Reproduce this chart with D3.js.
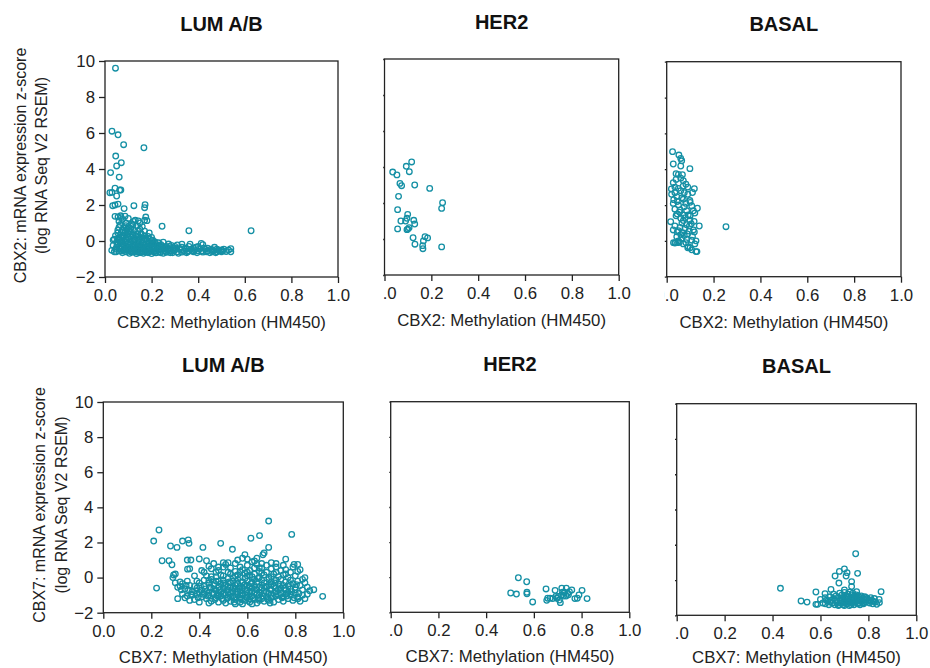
<!DOCTYPE html>
<html>
<head>
<meta charset="utf-8">
<script src="https://cdn.jsdelivr.net/npm/d3@7"></script>
<style>
  html, body { margin: 0; padding: 0; background: #fff; }
  svg { display: block; font-family: "Liberation Sans", Arial, sans-serif; }
</style>
</head>
<body>
<svg id="chart" width="930" height="668"></svg>
<script>
// Subtype column titles and axis tick values
const subtypes = ["LUM A/B", "HER2", "BASAL"];
const genes = ["CBX2", "CBX7"];
const xTickValues = [0, 0.2, 0.4, 0.6, 0.8, 1.0];
const yTickValues = [-2, 0, 2, 4, 6, 8, 10];

// [methylation beta, mRNA z-score] per sample
const cbx2LumAB = [
  [0.045,9.6],[0.03,6.1],[0.056,5.9],[0.08,5.35],[0.167,5.18],[0.046,4.72],[0.07,4.35],[0.05,4.17],
  [0.024,3.8],[0.061,3.55],[0.043,2.93],[0.063,2.83],[0.021,2.68],[0.03,2.7],[0.05,2.5],[0.068,2.83],
  [0.033,1.96],[0.043,2.0],[0.056,2.05],[0.082,1.8],[0.124,1.96],[0.172,2.02],[0.17,1.85],[0.043,1.37],
  [0.056,1.33],[0.067,1.4],[0.086,1.38],[0.175,1.33],[0.123,1.09],[0.143,1.12],[0.17,1.15],[0.18,1.13],
  [0.245,0.82],[0.36,0.57],[0.627,0.57],[0.029,-0.52],
  [0.06,1.1],[0.075,1.2],[0.09,1.0],[0.1,1.25],[0.115,0.95],[0.135,0.85],[0.15,1.0],[0.16,0.8],
  [0.065,0.9],[0.08,0.75],[0.095,0.65],[0.11,0.7],[0.125,0.6],[0.14,0.55],[0.055,0.6],[0.07,0.5],
  [0.085,0.45],[0.1,0.4],[0.12,0.35],[0.135,0.3],[0.155,0.4],[0.17,0.3],[0.185,0.25],[0.2,0.2],
  [0.045,0.3],[0.06,0.2],[0.075,0.25],[0.09,0.15],[0.105,0.1],[0.13,0.05],[0.145,0.1],[0.165,0.05],
  [0.18,0.0],[0.2,0.02],[0.215,-0.05],[0.23,-0.1],[0.04,0.1],[0.05,-0.05],[0.065,-0.1],[0.08,0.0],
  [0.095,-0.15],[0.11,-0.1],[0.125,-0.2],[0.14,-0.15],[0.155,-0.25],[0.17,-0.2],[0.19,-0.3],[0.21,-0.25],
  [0.225,-0.35],[0.035,-0.25],[0.05,-0.35],[0.07,-0.3],[0.085,-0.4],[0.1,-0.35],[0.115,-0.45],[0.13,-0.4],
  [0.145,-0.5],[0.16,-0.45],[0.175,-0.55],[0.195,-0.5],[0.21,-0.6],[0.24,-0.45],[0.255,-0.55],[0.27,-0.4],
  [0.04,-0.6],[0.06,-0.55],[0.075,-0.65],[0.09,-0.6],[0.105,-0.68],[0.12,-0.62],[0.135,-0.7],[0.15,-0.65],
  [0.165,-0.68],[0.18,-0.62],[0.2,-0.7],[0.22,-0.66],[0.235,-0.6],[0.25,-0.68],[0.265,-0.63],[0.28,-0.55],
  [0.29,-0.65],[0.3,-0.5],[0.31,-0.6],[0.32,-0.42],[0.33,-0.18],[0.34,-0.55],[0.35,-0.65],[0.365,-0.18],
  [0.37,-0.45],[0.38,-0.6],[0.39,-0.35],[0.4,-0.55],[0.413,-0.13],[0.42,-0.62],[0.43,-0.45],[0.44,-0.55],
  [0.45,-0.65],[0.46,-0.5],[0.47,-0.35],[0.48,-0.6],[0.49,-0.55],[0.5,-0.6],[0.51,-0.45],[0.52,-0.58],
  [0.53,-0.5],[0.54,-0.43],[0.54,-0.6],[0.273,-0.17],[0.25,-0.07],[0.31,-0.22],[0.3,-0.3],[0.285,-0.25],
  [0.26,-0.3],[0.24,-0.2],[0.2,-0.12],[0.185,-0.4],[0.165,-0.35],[0.15,-0.3],[0.12,-0.55],[0.1,-0.5],
  [0.08,-0.5],[0.06,-0.42],[0.045,-0.45],[0.035,0.05],[0.055,0.45],[0.06,0.75],[0.07,1.3],[0.08,0.3],
  [0.095,0.35],[0.11,0.25],[0.125,0.15],[0.14,0.2],[0.16,0.15],[0.175,0.1],[0.19,0.12],[0.205,-0.15],
  [0.22,-0.2],[0.235,-0.3],[0.25,-0.4],[0.27,-0.5],[0.3,-0.4],[0.33,-0.35],[0.35,-0.45],[0.36,-0.3],
  [0.38,-0.4],[0.4,-0.3],[0.42,-0.2],[0.44,-0.4],[0.46,-0.6],[0.48,-0.45],[0.5,-0.5],[0.33,-0.62],
  [0.36,-0.55],[0.28,-0.65],[0.23,-0.5],[0.17,-0.6],[0.14,-0.62],[0.11,-0.6],[0.09,-0.3],[0.085,0.55],
  [0.1,0.8],[0.12,0.9],[0.13,1.15],[0.15,0.65],[0.17,0.55],[0.19,0.45],[0.11,0.5],[0.065,0.05],
  [0.052,-0.2],[0.058,0.1],[0.068,-0.45],[0.072,0.15],[0.078,-0.2],[0.088,-0.05],[0.092,-0.5],[0.098,0.2],
  [0.103,-0.25],[0.108,-0.55],[0.113,0.05],[0.118,-0.3],[0.122,-0.05],[0.128,-0.5],[0.132,0.25],[0.138,-0.3],
  [0.142,-0.05],[0.148,-0.4],[0.152,0.2],[0.158,-0.6],[0.162,-0.1],[0.168,-0.45],[0.172,0.15],[0.178,-0.3],
  [0.182,-0.5],[0.188,-0.15],[0.192,-0.6],[0.198,-0.35],[0.205,0.05],[0.212,-0.45],[0.218,-0.55],[0.228,-0.25],
  [0.238,-0.65],[0.245,-0.3],[0.258,-0.45],[0.262,-0.6],[0.275,-0.3],[0.282,-0.45],[0.295,-0.55],[0.305,-0.45],
  [0.315,-0.68],[0.325,-0.5],[0.345,-0.4],[0.355,-0.6],[0.375,-0.55],[0.385,-0.5],[0.395,-0.65],[0.405,-0.45],
  [0.415,-0.55],[0.425,-0.4],[0.435,-0.6],[0.455,-0.45],[0.465,-0.55],[0.475,-0.65],[0.485,-0.5],[0.505,-0.55],
  [0.048,-0.6],[0.055,0.05],[0.062,-0.3],[0.072,-0.55],[0.082,-0.25],[0.088,0.1],[0.095,-0.45],[0.105,-0.4],
  [0.115,-0.6],[0.125,-0.35],[0.135,-0.55],[0.145,-0.25],[0.155,-0.55],[0.165,-0.2],[0.175,-0.4],[0.185,-0.65],
  [0.195,-0.15],[0.205,-0.4],[0.215,-0.65],[0.225,-0.5],[0.075,0.6],[0.09,0.85],[0.105,0.55],[0.14,0.4]
];

const cbx2Her2 = [
  [0.035,3.72],[0.053,3.56],[0.093,4.04],[0.116,4.28],[0.106,3.74],[0.066,3.09],[0.073,2.96],[0.129,3.0],
  [0.193,2.81],[0.06,2.37],[0.248,2.02],[0.244,1.7],[0.056,1.63],[0.099,1.37],[0.096,1.15],[0.07,1.0],
  [0.09,1.0],[0.125,1.04],[0.129,0.83],[0.056,0.56],[0.096,0.52],[0.105,0.63],[0.1,0.55],[0.122,0.07],
  [0.173,0.13],[0.184,0.06],[0.166,-0.11],[0.13,-0.29],[0.163,-0.37],[0.164,-0.54],[0.244,-0.44]
];

const cbx2Basal = [
  [0.025,4.98],[0.052,4.79],[0.06,4.6],[0.064,4.47],[0.028,4.29],[0.06,4.18],[0.099,4.03],[0.05,3.71],
  [0.067,3.69],[0.04,3.43],[0.071,3.36],[0.028,3.25],[0.082,3.16],[0.118,2.91],[0.05,2.93],[0.06,2.8],
  [0.035,2.69],[0.075,2.69],[0.021,2.6],[0.043,2.47],[0.071,2.32],[0.099,2.25],[0.028,2.09],[0.05,2.0],
  [0.082,2.09],[0.107,1.95],[0.131,1.82],[0.035,1.77],[0.057,1.73],[0.085,1.68],[0.114,1.68],[0.045,1.5],
  [0.071,1.44],[0.092,1.44],[0.06,1.26],[0.099,1.16],[0.017,1.07],[0.071,1.13],[0.117,1.09],[0.139,0.83],
  [0.035,0.83],[0.057,0.75],[0.078,0.7],[0.097,0.83],[0.05,0.57],[0.028,0.61],[0.068,0.46],[0.088,0.39],
  [0.114,0.61],[0.118,0.5],[0.043,0.23],[0.064,0.14],[0.085,0.08],[0.107,0.04],[0.125,0.0],[0.035,-0.12],
  [0.054,-0.08],[0.071,-0.17],[0.092,-0.32],[0.107,-0.5],[0.125,-0.6],[0.253,0.79],
  [0.03,2.3],[0.045,2.2],[0.065,2.4],[0.09,2.6],[0.1,2.15],[0.075,1.9],[0.055,1.6],[0.04,1.4],
  [0.08,1.3],[0.1,1.4],[0.12,1.55],[0.065,1.0],[0.085,0.9],[0.105,0.95],[0.045,0.5],[0.075,0.3],
  [0.095,0.55],[0.11,0.25],[0.06,0.35],[0.038,-0.1],[0.05,0.0],[0.082,-0.1],[0.1,-0.38],[0.12,-0.17],
  [0.129,-0.6],[0.029,-0.1],[0.046,-0.1],[0.09,-0.38],[0.07,3.05],[0.04,3.75],[0.02,2.9],[0.035,3.0],
  [0.06,3.5],[0.09,3.0],[0.11,2.7]
];

const cbx7LumAB = [
  [0.21,2.08],[0.232,2.71],[0.245,0.96],[0.274,0.96],[0.286,0.73],[0.222,-0.6],[0.28,1.8],[0.307,1.72],
  [0.33,2.08],[0.354,2.15],[0.357,1.95],[0.415,1.72],[0.489,1.95],[0.538,1.61],[0.615,2.24],[0.651,2.39],
  [0.689,3.22],[0.785,2.46],[0.689,1.72],[0.914,-1.07],[0.877,-0.69],[0.811,-1.2],[0.293,0.15],[0.351,0.48],
  [0.4,1.06],[0.43,0.96],[0.35,1.0],[0.365,1.0],[0.52,0.85],[0.56,1.0],[0.59,1.31],[0.58,1.1],
  [0.6,1.05],[0.62,0.9],[0.64,1.1],[0.665,1.3],[0.67,1.4],[0.7,0.85],[0.72,0.8],[0.76,1.05],
  [0.795,0.75],[0.81,0.75],[0.82,0.45],[0.66,0.8],[0.63,0.95],[0.5,0.85],[0.48,0.6],[0.46,0.8],[0.45,0.5],
  [0.3,0.2],[0.32,-0.25],[0.36,0.5],[0.38,0.1],[0.39,-0.2],[0.41,0.4],[0.42,0.3],[0.43,0.1],
  [0.44,0.65],[0.45,0.05],[0.47,0.3],[0.48,0.4],[0.49,0.15],[0.5,0.6],[0.5,0.1],[0.51,0.75],
  [0.52,0.3],[0.53,0.55],[0.54,0.0],[0.55,0.8],[0.55,0.35],[0.56,0.15],[0.57,0.6],[0.57,0.0],
  [0.58,0.45],[0.59,0.25],[0.6,0.7],[0.6,0.1],[0.61,0.4],[0.62,0.05],[0.63,0.55],[0.63,0.2],
  [0.64,0.75],[0.65,0.35],[0.65,0.0],[0.66,0.55],[0.67,0.15],[0.68,0.7],[0.68,0.3],[0.69,0.0],
  [0.7,0.5],[0.71,0.2],[0.72,0.6],[0.73,0.05],[0.74,0.4],[0.75,0.7],[0.75,0.15],[0.76,0.45],
  [0.77,0.0],[0.78,0.3],[0.79,0.6],[0.8,0.1],[0.81,0.35],[0.83,-0.1],[0.84,0.0],
  [0.29,0.0],[0.3,-0.3],[0.31,-0.55],[0.32,-0.5],[0.33,-0.35],[0.34,-0.65],[0.35,-0.2],[0.36,-0.45],
  [0.37,-0.8],[0.38,-0.5],[0.39,-0.6],[0.4,-0.3],[0.41,-0.7],[0.42,-0.15],[0.42,-0.5],[0.43,-0.8],
  [0.44,-0.3],[0.45,-0.6],[0.45,-0.1],[0.46,-0.45],[0.47,-0.75],[0.47,-0.2],[0.48,-0.55],[0.49,-0.35],
  [0.49,-0.8],[0.5,-0.15],[0.5,-0.6],[0.51,-0.4],[0.52,-0.7],[0.52,-0.05],[0.53,-0.3],[0.53,-0.55],
  [0.54,-0.8],[0.54,-0.2],[0.55,-0.45],[0.55,-0.65],[0.56,-0.1],[0.56,-0.35],[0.57,-0.75],[0.57,-0.5],
  [0.58,-0.25],[0.58,-0.6],[0.59,-0.05],[0.59,-0.4],[0.6,-0.7],[0.6,-0.2],[0.61,-0.5],[0.61,-0.8],
  [0.62,-0.3],[0.62,-0.6],[0.63,-0.1],[0.63,-0.45],[0.64,-0.7],[0.64,-0.25],[0.65,-0.55],[0.66,-0.15],
  [0.66,-0.4],[0.67,-0.75],[0.67,-0.3],[0.68,-0.55],[0.69,-0.1],[0.69,-0.45],[0.7,-0.7],[0.7,-0.25],
  [0.71,-0.5],[0.72,-0.15],[0.72,-0.8],[0.73,-0.35],[0.74,-0.6],[0.74,-0.1],[0.75,-0.45],[0.76,-0.25],
  [0.76,-0.7],[0.77,-0.5],[0.78,-0.15],[0.78,-0.65],[0.79,-0.35],[0.8,-0.55],[0.81,-0.2],[0.82,-0.45],
  [0.83,-0.7],[0.84,-0.3],[0.85,-0.55],[0.86,-0.75],
  [0.31,-1.2],[0.33,-0.95],[0.35,-1.05],[0.37,-1.0],[0.38,-1.25],[0.39,-0.95],[0.4,-1.4],[0.41,-1.1],
  [0.42,-0.9],[0.43,-1.2],[0.44,-1.0],[0.45,-1.35],[0.46,-0.95],[0.47,-1.15],[0.48,-1.4],[0.48,-0.9],
  [0.49,-1.05],[0.5,-1.3],[0.51,-1.0],[0.51,-1.45],[0.52,-1.15],[0.53,-0.9],[0.53,-1.35],[0.54,-1.05],
  [0.55,-1.25],[0.55,-1.5],[0.56,-0.95],[0.57,-1.15],[0.57,-1.4],[0.58,-1.0],[0.59,-1.3],[0.6,-0.9],
  [0.6,-1.15],[0.61,-1.4],[0.62,-1.05],[0.63,-1.25],[0.63,-0.85],[0.64,-1.45],[0.65,-1.0],[0.66,-1.2],
  [0.67,-0.9],[0.67,-1.35],[0.68,-1.1],[0.69,-1.3],[0.7,-0.95],[0.7,-1.15],[0.71,-1.4],[0.72,-1.05],
  [0.73,-1.25],[0.74,-0.9],[0.75,-1.1],[0.75,-1.35],[0.76,-0.95],[0.77,-1.2],[0.78,-1.0],[0.79,-1.3],
  [0.8,-0.9],[0.81,-1.1],[0.82,-1.35],[0.83,-1.0],[0.84,-1.2],[0.85,-0.95],[0.34,-1.15],[0.36,-1.3],
  [0.44,-1.45],[0.58,-1.5],[0.62,-1.5],[0.4,-0.85],[0.465,-1.25],[0.505,-0.85],[0.545,-1.4],[0.595,-1.1],
  [0.645,-1.2],[0.695,-1.45],[0.735,-1.0],
  [0.5,-0.3],[0.52,-0.5],[0.54,-0.6],[0.56,-0.8],[0.58,-0.9],[0.6,-0.45],[0.62,-0.8],[0.64,-0.9],
  [0.66,-0.6],[0.68,-0.8],[0.7,-0.4],[0.72,-0.6],[0.46,-0.65],[0.44,-0.85],[0.48,-1.0],[0.5,-0.95],
  [0.53,-1.1],[0.57,-1.0],[0.61,-1.2],[0.65,-1.3],[0.69,-0.9],[0.73,-0.7],[0.77,-0.85],[0.8,-0.7],
  [0.55,0.1],[0.6,0.3],[0.65,0.55],[0.7,0.05],[0.52,-0.85],[0.48,-0.2],
  [0.505,-0.45],[0.515,-1.2],[0.525,-0.25],[0.535,-0.75],[0.545,-1.15],[0.555,-0.3],[0.565,-0.6],[0.575,-1.25],
  [0.585,-0.45],[0.595,-0.8],[0.605,-1.3],[0.615,-0.35],[0.625,-1.15],[0.635,-0.65],[0.645,-0.05],[0.655,-0.85],
  [0.665,-1.05],[0.675,-0.5],[0.685,-1.25],[0.695,-0.65],[0.705,-1.05],[0.715,-0.3],[0.725,-0.95],[0.735,-0.5],
  [0.745,-1.15],[0.755,-0.6],[0.765,-1.05],[0.775,-0.35],[0.785,-0.8],[0.795,-1.15],[0.805,-0.4],[0.815,-0.9],
  [0.425,-0.65],[0.435,-1.05],[0.445,-0.55],[0.455,-0.85],[0.465,-0.35],[0.475,-1.05],[0.485,-0.7],[0.495,-1.2],
  [0.385,-0.75],[0.395,-1.15],[0.405,-0.5],[0.415,-0.95],[0.355,-0.7],[0.365,-0.95],[0.345,-0.45],[0.325,-0.7],
  [0.53,0.2],[0.57,0.35],[0.61,0.15],[0.66,0.25],[0.72,0.3],[0.76,0.2],[0.47,0.05],[0.44,-0.15]
];

const cbx7Her2 = [
  [0.535,-0.03],[0.57,-0.26],[0.503,-0.9],[0.527,-0.96],[0.571,-0.86],[0.571,-0.95],[0.595,-1.41],[0.651,-0.67],
  [0.689,-0.75],[0.717,-0.63],[0.736,-0.62],[0.759,-0.73],[0.802,-0.75],[0.789,-1.01],[0.823,-1.22],[0.772,-1.22],
  [0.782,-1.2],[0.711,-1.45],[0.654,-1.32],[0.658,-1.2],[0.668,-1.2],[0.679,-1.22],[0.696,-1.2],[0.703,-1.1],
  [0.717,-1.01],[0.724,-1.07],[0.735,-1.07],[0.742,-0.92],[0.749,-0.82],[0.728,-0.86],[0.692,-1.09],[0.707,-1.3],
  [0.745,-1.0],[0.72,-0.85]
];

const cbx7Basal = [
  [0.747,1.49],[0.433,-0.47],[0.519,-1.19],[0.544,-1.25],[0.581,-0.68],[0.581,-1.38],[0.588,-1.38],[0.619,-0.77],
  [0.644,-0.53],[0.661,0.23],[0.679,0.49],[0.7,0.63],[0.711,0.42],[0.707,0.23],[0.755,0.38],[0.677,-0.17],
  [0.73,-0.09],[0.73,-0.37],[0.7,-0.56],[0.724,-0.68],[0.751,-0.66],[0.853,-0.66],[0.846,-1.28],[0.835,-1.38],
  [0.812,-1.13],[0.79,-1.0],
  [0.6,-1.1],[0.61,-1.3],[0.62,-1.0],[0.63,-1.2],[0.635,-1.4],[0.64,-0.95],[0.645,-1.15],[0.65,-1.3],
  [0.655,-1.05],[0.66,-1.4],[0.665,-0.9],[0.67,-1.2],[0.675,-1.45],[0.68,-1.0],[0.685,-1.3],[0.69,-0.85],
  [0.69,-1.15],[0.695,-1.4],[0.7,-1.0],[0.7,-1.25],[0.705,-0.9],[0.71,-1.35],[0.71,-1.1],[0.715,-0.95],
  [0.72,-1.25],[0.72,-1.45],[0.725,-1.05],[0.73,-0.85],[0.73,-1.3],[0.735,-1.15],[0.74,-1.0],[0.74,-1.4],
  [0.745,-0.9],[0.75,-1.2],[0.75,-1.05],[0.755,-1.35],[0.76,-0.95],[0.76,-1.15],[0.765,-1.3],[0.77,-1.0],
  [0.775,-1.2],[0.78,-1.1],[0.78,-1.35],[0.785,-0.95],[0.79,-1.25],[0.795,-1.05],[0.8,-1.15],[0.805,-1.3],
  [0.81,-1.0],[0.82,-1.2],[0.825,-1.05],[0.83,-1.25],[0.845,-1.1],[0.62,-1.35],[0.655,-0.8],[0.68,-0.75],
  [0.7,-0.7],[0.715,-0.8],[0.735,-0.75],[0.7,-1.45],[0.66,-1.15],[0.64,-1.25],[0.725,-1.2],[0.745,-1.25],
  [0.765,-1.4],[0.69,-1.05],[0.71,-1.2],[0.73,-1.05],[0.75,-0.85],[0.77,-0.9],
  [0.625,-1.15],[0.668,-1.3],[0.688,-1.2],[0.708,-1.05],[0.728,-1.4],[0.748,-1.1],[0.768,-1.2],[0.788,-1.1],
  [0.808,-1.2],[0.818,-1.35],[0.678,-1.4],[0.698,-1.3],[0.718,-1.15],[0.738,-1.25],[0.758,-1.05],[0.778,-1.3]
];

// Panel layout: plot frame in pixels; clipLeft trims where a neighbouring panel overlaps
const panels = [
  { gene: 0, sub: 0, data: cbx2LumAB, x0: 105,   x1: 338,   y0: 61,    y1: 277,   xtY: 328,   yLabels: true,  clipLeft: null, ytx: [20, 41.7], ytc: 165.5 },
  { gene: 0, sub: 1, data: cbx2Her2,  x0: 384.5, x1: 618.7, y0: 59,    y1: 275,   xtY: 325.5, yLabels: false, clipLeft: 383.2 },
  { gene: 0, sub: 2, data: cbx2Basal, x0: 666.7, x1: 901,   y0: 61.7,  y1: 276.7, xtY: 328,   yLabels: false, clipLeft: 664.8 },
  { gene: 1, sub: 0, data: cbx7LumAB, x0: 103.3, x1: 343.3, y0: 402,   y1: 612.7, xtY: 662.5, yLabels: true,  clipLeft: null, ytx: [39, 61.5], ytc: 505 },
  { gene: 1, sub: 1, data: cbx7Her2,  x0: 390.7, x1: 629.3, y0: 401.7, y1: 612.3, xtY: 662,   yLabels: false, clipLeft: 389.3 },
  { gene: 1, sub: 2, data: cbx7Basal, x0: 676.7, x1: 916.3, y0: 403.7, y1: 615.3, xtY: 663,   yLabels: false, clipLeft: 675 }
];

const markColor = "#1590a5";
const inkColor = "#222";
const svg = d3.select("#chart");
const defs = svg.append("defs");

panels.forEach((p, i) => {
  const g = svg.append("g");
  if (p.clipLeft !== null) {
    defs.append("clipPath").attr("id", "clip" + i)
      .append("rect").attr("x", p.clipLeft).attr("y", 0).attr("width", 400).attr("height", 668);
    g.attr("clip-path", `url(#clip${i})`);
  }

  const x = d3.scaleLinear().domain([0, 1]).range([p.x0, p.x1]);
  const y = d3.scaleLinear().domain([-2, 10]).range([p.y1, p.y0]);

  // Points
  g.append("g").selectAll("circle").data(p.data).join("circle")
    .attr("cx", d => x(d[0])).attr("cy", d => y(d[1])).attr("r", 2.8)
    .attr("fill", "none").attr("stroke", markColor).attr("stroke-width", 1.3);

  // Axes
  const xAxis = d3.axisBottom(x).tickValues(xTickValues).tickFormat(d3.format(".1f"))
    .tickSize(6).tickPadding(6).tickSizeOuter(0);
  const yAxis = d3.axisLeft(y).tickValues(yTickValues)
    .tickFormat(p.yLabels ? d3.format("d") : () => "")
    .tickSize(6).tickPadding(4).tickSizeOuter(0);

  const gx = g.append("g").attr("transform", `translate(0,${p.y1})`).call(xAxis);
  const gy = g.append("g").attr("transform", `translate(${p.x0},0)`).call(yAxis);
  [gx, gy].forEach(a => {
    a.select(".domain").remove();
    a.selectAll(".tick line").attr("stroke", inkColor).attr("stroke-width", 1.3);
    a.selectAll(".tick text").attr("fill", inkColor).attr("font-size", 16.8)
      .attr("font-family", "'Liberation Sans', Arial, sans-serif");
  });

  // Frame
  g.append("rect").attr("x", p.x0).attr("y", p.y0)
    .attr("width", p.x1 - p.x0).attr("height", p.y1 - p.y0)
    .attr("fill", "none").attr("stroke", inkColor).attr("stroke-width", 1.3);

  const cx = (p.x0 + p.x1) / 2;
  // Subtype title
  g.append("text").attr("x", cx).attr("y", p.y0 - 30.5).attr("text-anchor", "middle")
    .attr("font-size", 20).attr("font-weight", "bold").attr("fill", "#111")
    .text(subtypes[p.sub]);

  // X axis title
  g.append("text").attr("x", cx).attr("y", p.xtY).attr("text-anchor", "middle")
    .attr("font-size", 16.8).attr("fill", inkColor)
    .text(`${genes[p.gene]}: Methylation (HM450)`);

  // Y axis title (first column only)
  if (p.yLabels) {
    const lines = [`${genes[p.gene]}: mRNA expression z-score`, "(log RNA Seq V2 RSEM)"];
    lines.forEach((t, k) => {
      g.append("text")
        .attr("transform", `translate(${p.ytx[k] + 5.7},${p.ytc}) rotate(-90)`)
        .attr("text-anchor", "middle").attr("font-size", 16).attr("fill", inkColor)
        .text(t);
    });
  }
});
</script>
</body>
</html>
